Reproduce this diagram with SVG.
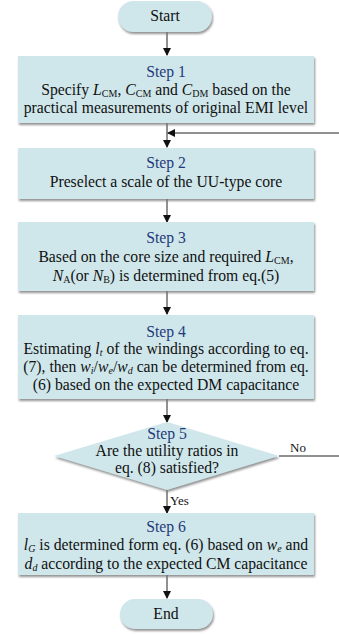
<svg xmlns="http://www.w3.org/2000/svg" width="339" height="635" viewBox="0 0 339 635">
<style>
.box{fill:#cfe7eb;filter:url(#sh)}
.t{font-family:"Liberation Serif","Times New Roman",serif;font-size:15.7px;fill:#111;text-anchor:middle}
.s{fill:#1f3a7a}
.ln{stroke:#222;stroke-width:1;fill:none}
.lb{font-family:"Liberation Serif","Times New Roman",serif;font-size:13px;fill:#111}
</style>
<defs>
<filter id="sh" x="-10%" y="-20%" width="120%" height="150%">
<feGaussianBlur in="SourceAlpha" stdDeviation="1.2"/>
<feOffset dx="1" dy="2" result="b"/>
<feFlood flood-color="#777" flood-opacity="0.8"/>
<feComposite in2="b" operator="in"/>
<feMerge><feMergeNode/><feMergeNode in="SourceGraphic"/></feMerge>
</filter>
<marker id="ah" markerWidth="8" markerHeight="8" refX="7" refY="4" orient="auto" markerUnits="userSpaceOnUse">
<path d="M0,0 L8,4 L0,8 z" fill="#111"/>
</marker>
</defs>
<g id="connectors">
<line class="ln" x1="167" y1="32" x2="167" y2="55" marker-end="url(#ah)"/>
<line class="ln" x1="167" y1="123" x2="167" y2="147" marker-end="url(#ah)"/>
<line class="ln" x1="339" y1="133" x2="168" y2="133" marker-end="url(#ah)"/>
<line class="ln" x1="167" y1="199" x2="167" y2="222" marker-end="url(#ah)"/>
<line class="ln" x1="167" y1="291" x2="167" y2="314" marker-end="url(#ah)"/>
<line class="ln" x1="167" y1="399" x2="167" y2="422" marker-end="url(#ah)"/>
<line class="ln" x1="279" y1="456" x2="339" y2="456"/>
<text class="lb" x="290" y="452">No</text>
<line class="ln" x1="167" y1="490" x2="167" y2="513" marker-end="url(#ah)"/>
<text class="lb" x="170" y="505">Yes</text>
<line class="ln" x1="167" y1="575" x2="167" y2="598" marker-end="url(#ah)"/>
</g>
<g id="start">
<rect class="box" x="118" y="1" width="94" height="31" rx="15.5"/>
<text class="t" x="165" y="21">Start</text>
</g>
<g id="step1">
<rect class="box" x="18" y="56" width="296" height="67"/>
<text class="t s" x="166" y="77">Step 1</text>
<text class="t" x="166" y="95">Specify <tspan font-style="italic">L</tspan><tspan font-size="10" dy="2">CM</tspan><tspan dy="-2">, </tspan><tspan font-style="italic">C</tspan><tspan font-size="10" dy="2">CM</tspan><tspan dy="-2"> and </tspan><tspan font-style="italic">C</tspan><tspan font-size="10" dy="2">DM</tspan><tspan dy="-2"> based on the</tspan></text>
<text class="t" x="166" y="113">practical measurements of original EMI level</text>
</g>
<g id="step2">
<rect class="box" x="18" y="148" width="296" height="51"/>
<text class="t s" x="166" y="168">Step 2</text>
<text class="t" x="166" y="187">Preselect a scale of the UU-type core</text>
</g>
<g id="step3">
<rect class="box" x="18" y="222" width="296" height="69"/>
<text class="t s" x="166" y="243">Step 3</text>
<text class="t" x="166" y="262">Based on the core size and required <tspan font-style="italic">L</tspan><tspan font-size="10" dy="2">CM</tspan><tspan dy="-2">,</tspan></text>
<text class="t" x="166" y="281"><tspan font-style="italic">N</tspan><tspan font-size="10" dy="2">A</tspan><tspan dy="-2">(or </tspan><tspan font-style="italic">N</tspan><tspan font-size="10" dy="2">B</tspan><tspan dy="-2">) is determined from eq.(5)</tspan></text>
</g>
<g id="step4">
<rect class="box" x="18" y="315" width="296" height="84"/>
<text class="t s" x="166" y="337">Step 4</text>
<text class="t" x="166" y="354">Estimating <tspan font-style="italic">l</tspan><tspan font-size="10" font-style="italic" dy="2">t</tspan><tspan dy="-2"> of the windings according to eq.</tspan></text>
<text class="t" x="166" y="372">(7), then <tspan font-style="italic">w</tspan><tspan font-size="10" font-style="italic" dy="2">i</tspan><tspan dy="-2">/</tspan><tspan font-style="italic">w</tspan><tspan font-size="10" font-style="italic" dy="2">e</tspan><tspan dy="-2">/</tspan><tspan font-style="italic">w</tspan><tspan font-size="10" font-style="italic" dy="2">d</tspan><tspan dy="-2"> can be determined from eq.</tspan></text>
<text class="t" x="166" y="390">(6) based on the expected DM capacitance</text>
</g>
<g id="step5">
<polygon class="box" points="167,422 279,456 167,490 54,456"/>
<text class="t s" x="167" y="439">Step 5</text>
<text class="t" x="167" y="456">Are the utility ratios in</text>
<text class="t" x="167" y="473">eq. (8) satisfied?</text>
</g>
<g id="step6">
<rect class="box" x="18" y="513" width="296" height="62"/>
<text class="t s" x="166" y="532">Step 6</text>
<text class="t" x="166" y="550"><tspan font-style="italic">l</tspan><tspan font-size="10" font-style="italic" dy="2">G</tspan><tspan dy="-2"> is determined form eq. (6) based on </tspan><tspan font-style="italic">w</tspan><tspan font-size="10" font-style="italic" dy="2">e</tspan><tspan dy="-2"> and</tspan></text>
<text class="t" x="166" y="569"><tspan font-style="italic">d</tspan><tspan font-size="10" font-style="italic" dy="2">d</tspan><tspan dy="-2"> according to the expected CM capacitance</tspan></text>
</g>
<g id="end">
<rect class="box" x="120" y="599" width="93" height="30" rx="15"/>
<text class="t" x="166" y="619">End</text>
</g>
</svg>
